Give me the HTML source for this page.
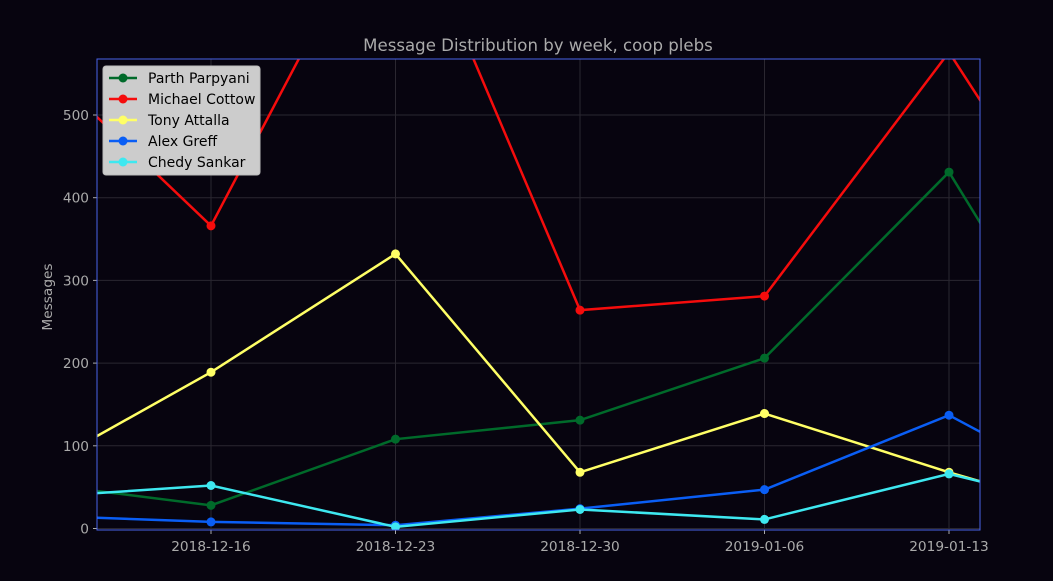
<!DOCTYPE html>
<html><head><meta charset="utf-8"><style>
html,body{margin:0;padding:0;background:#07040f;}
svg{display:block;font-family:"DejaVu Sans","Liberation Sans",sans-serif;}
</style></head><body>
<svg id="chart" width="1053" height="581"></svg>
<script>
const categories=["2018-12-09","2018-12-16","2018-12-23","2018-12-30","2019-01-06","2019-01-13","2019-01-20"];
const tickLabels=["2018-12-16","2018-12-23","2018-12-30","2019-01-06","2019-01-13"];
const yTicks=[0,100,200,300,400,500];
const seriesNames=["Parth Parpyani","Michael Cottow","Tony Attalla","Alex Greff","Chedy Sankar"];
const parth=[56,28,108,131,206,431,68];
const michael=[579,366,790,264,281,576,231];
const tony=[64,189,332,68,139,68,3];
const alex=[16,8,4,24,47,137,18];
const chedy=[37,52,2,23,11,66,12];
const colors=["#006a2a","#f50c0c","#ffff66","#0a5ef5","#3ee8f0"];
const allSeries=[parth,michael,tony,alex,chedy];

const NS="http://www.w3.org/2000/svg";
const svg=document.getElementById('chart');
const L=97,R=980,T=59,B=530;
const xs=i=>211+(i-1)*184.5;
const ys=v=>528.5-v*0.827;
function mk(tag,attrs,parent){const e=document.createElementNS(NS,tag);for(const k in attrs)e.setAttribute(k,attrs[k]);(parent||svg).appendChild(e);return e;}
const defs=mk('defs',{});
const cp=mk('clipPath',{id:'clip'},defs);mk('rect',{x:L,y:T,width:R-L,height:B-T},cp);

const grid=mk('g',{});


tickLabels.forEach((t,i)=>{const x=xs(i+1);
 mk('line',{x1:x,x2:x,y1:T,y2:B,stroke:'#2a2730','stroke-width':1},grid);
 mk('line',{x1:x,x2:x,y1:B,y2:B+4,stroke:'#aaa'},grid);
 const tx=mk('text',{x:x,y:B+21,'text-anchor':'middle','font-size':13.7,fill:'#aaa'});
 tx.textContent=t;
 
 
});
yTicks.forEach(v=>{const y=ys(v);
 mk('line',{x1:L,x2:R,y1:y,y2:y,stroke:'#2a2730','stroke-width':1},grid);
 mk('line',{x1:L-4,x2:L,y1:y,y2:y,stroke:'#aaa'},grid);
 const tx=mk('text',{x:L-8,y:y+5,'text-anchor':'end','font-size':13.7,fill:'#aaa'});
 tx.textContent=v;
 
 
});

const plot=mk('g',{'clip-path':'url(#clip)'});
allSeries.forEach((s,si)=>{
 const g=mk('g',{},plot);
 
 
 mk('polyline',{points:s.map((v,i)=>xs(i)+','+ys(v)).join(' '),fill:'none',stroke:colors[si],'stroke-width':2.5},g);
 s.forEach((v,i)=>{const c=mk('circle',{cx:xs(i),cy:ys(v),r:4.5,fill:colors[si]},g);
  
  });
});

const frame=mk('rect',{x:L,y:T,width:R-L,height:B-T,fill:'none',stroke:'#4a63e8','stroke-width':1});



const title=mk('text',{x:538,y:51,'text-anchor':'middle','font-size':16.6,fill:'#aaa'});
title.textContent='Message Distribution by week, coop plebs';


const yt=mk('text',{x:52,y:297,'text-anchor':'middle','font-size':13.7,fill:'#aaa',transform:'rotate(-90 52 297)'});
yt.textContent='Messages';



const lg=mk('g',{});


mk('rect',{x:103,y:66,width:157,height:109,rx:3,fill:'#cccccc',stroke:'#bbb'},lg);
seriesNames.forEach((n,i)=>{const y=78+i*21;
 const e=mk('g',{},lg);
 
 
 mk('line',{x1:109,x2:137,y1:y,y2:y,stroke:colors[i],'stroke-width':2.5},e);
 mk('circle',{cx:123,cy:y,r:4.5,fill:colors[i]},e);
 const t=mk('text',{x:148,y:y+5,'font-size':14,fill:'#000'},e);t.textContent=n;
});
</script>
</body></html>
